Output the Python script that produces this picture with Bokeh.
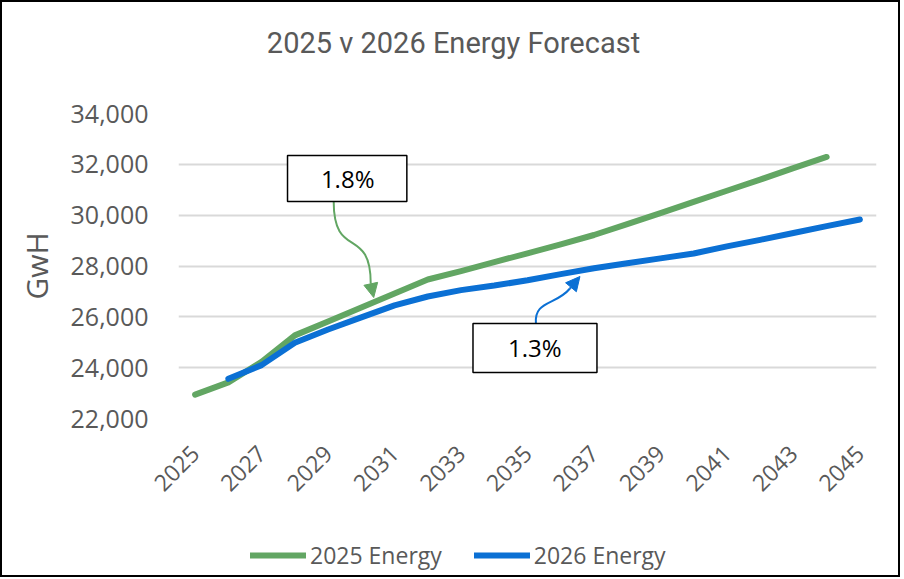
import numpy as np
from bokeh.plotting import figure
from bokeh.layouts import column
from bokeh.models import (FixedTicker, NumeralTickFormatter, Legend, LegendItem, Label,
                          BoxAnnotation, Arrow, NormalHead, Range1d)
from bokeh.embed import file_html
from bokeh.resources import INLINE

# ---- data ----
years = list(range(2025, 2046))
years_2025_forecast = list(range(2025, 2045))
energy_2025 = [22940, 23420, 24230, 25270, 25820, 26370, 26920, 27470, 27800, 28150,
               28500, 28850, 29220, 29650, 30080, 30520, 30960, 31400, 31850, 32290]
years_2026_forecast = list(range(2026, 2046))
energy_2026 = [23560, 24100, 24980, 25500, 25980, 26450, 26800, 27050, 27230, 27440,
               27680, 27910, 28110, 28300, 28490, 28770, 29030, 29300, 29570, 29830]
tick_years = list(range(2025, 2046, 2))
y_ticks = list(range(22000, 34001, 2000))
series_names = ["2025 Energy", "2026 Energy"]
growth_2025 = "1.8%"
growth_2026 = "1.3%"
chart_title = "2025 v 2026 Energy Forecast"

GREEN = "#62a663"
BLUE = "#0b70d4"
GREY = "#595959"
FONT = "Open Sans"
W = 896
FRAME_L, FRAME_R = 178, 876   # page pixels of the plot area (strips share it)

x0 = years[0]
xs_2025 = [y - x0 for y in years_2025_forecast]
xs_2026 = [y - x0 for y in years_2026_forecast]


def strip(height):
    f = figure(width=W, height=height, x_range=Range1d(FRAME_L, FRAME_R),
               y_range=Range1d(0, height),
               x_axis_location=None, y_axis_location=None, min_border=0,
               output_backend="svg", toolbar_location=None)
    f.outline_line_color = None
    f.grid.visible = False
    f.background_fill_color = "white"
    f.border_fill_color = "white"
    return f


# ---- title strip ----
pt = strip(60)
pt.add_layout(Label(x=453, y=20, text=chart_title, text_align="center",
                    text_baseline="middle", text_font="Roboto", text_font_size="29px",
                    text_color=GREY))

# ---- main chart ----
p = figure(width=W, height=468,
           x_range=Range1d(-0.5, len(years) - 0.5),
           y_range=Range1d(y_ticks[0], y_ticks[-1]),
           output_backend="svg", toolbar_location=None,
           min_border_left=176, min_border_right=22, min_border_top=51, min_border_bottom=112)

p.outline_line_color = None
p.background_fill_color = "white"
p.border_fill_color = "white"

p.xgrid.grid_line_color = None
p.ygrid.grid_line_color = "#d9d9d9"
p.ygrid.grid_line_width = 2

p.yaxis.ticker = FixedTicker(ticks=y_ticks)
p.yaxis.formatter = NumeralTickFormatter(format="0,0")
p.yaxis.axis_line_color = None
p.yaxis.major_tick_line_color = None
p.yaxis.minor_tick_line_color = None
p.yaxis.major_tick_out = 0
p.yaxis.major_label_standoff = 30
p.yaxis.major_label_text_font = FONT
p.yaxis.major_label_text_font_size = "25px"
p.yaxis.major_label_text_color = GREY
p.yaxis.axis_label = "GwH"
p.yaxis.axis_label_text_font = FONT
p.yaxis.axis_label_text_font_size = "30px"
p.yaxis.axis_label_text_font_style = "normal"
p.yaxis.axis_label_text_color = GREY
p.yaxis.axis_label_standoff = 11

p.xaxis.ticker = FixedTicker(ticks=[y - x0 for y in tick_years])
p.xaxis.major_label_overrides = {y - x0: str(y) for y in tick_years}
p.xaxis.axis_line_color = None
p.xaxis.major_tick_line_color = None
p.xaxis.minor_tick_line_color = None
p.xaxis.major_tick_out = 0
p.xaxis.major_label_orientation = np.pi / 4
p.xaxis.major_label_standoff = 31
p.xaxis.major_label_text_font = FONT
p.xaxis.major_label_text_font_size = "23px"
p.xaxis.major_label_text_color = GREY

p.line(xs_2025, energy_2025, line_width=6, line_color=GREEN, line_cap="round", line_join="round")
p.line(xs_2026, energy_2026, line_width=6, line_color=BLUE, line_cap="round", line_join="round")


def callout(left, right, bottom, top, text, tx, ty):
    p.add_layout(BoxAnnotation(left=left, right=right, bottom=bottom, top=top,
                               fill_color="white", fill_alpha=1.0,
                               line_color="black", line_alpha=1.0, line_width=1.5,
                               level="overlay"))
    p.add_layout(Label(x=tx, y=ty, text=text, text_align="center", text_baseline="middle",
                       text_font=FONT, text_font_size="24px", text_color="black",
                       level="overlay"))


callout(2.78, 6.37, 30537, 32346, growth_2025, 4.59, 31430)
callout(8.36, 12.09, 23810, 25737, growth_2026, 10.22, 24780)

p.bezier(x0=[4.169], y0=[30537], x1=[5.283], y1=[27311],
         cx0=[4.169], cy0=[28216], cx1=[5.283], cy1=[29593],
         line_color=GREEN, line_width=2)
p.add_layout(Arrow(x_start=5.283, y_start=27311, x_end=5.373, y_end=26760,
                   line_color=GREEN, line_width=2,
                   end=NormalHead(size=14, fill_color=GREEN, line_color=GREEN)))

p.bezier(x0=[10.253], y0=[25738], x1=[11.277], y1=[27115],
         cx0=[10.193], cy0=[26643], cx1=[10.855], cy1=[26446],
         line_color=BLUE, line_width=2)
p.add_layout(Arrow(x_start=11.277, y_start=27115, x_end=11.578, y_end=27587,
                   line_color=BLUE, line_width=2,
                   end=NormalHead(size=14, fill_color=BLUE, line_color=BLUE)))

# ---- legend strip (series drawn out of its visible range, only legend shows) ----
pl = strip(45)
l1 = pl.line(xs_2025, energy_2025, line_width=6, line_color=GREEN, line_cap="round")
l2 = pl.line(xs_2026, energy_2026, line_width=6, line_color=BLUE, line_cap="round")
legend = Legend(items=[LegendItem(label=series_names[0], renderers=[l1]),
                       LegendItem(label=series_names[1], renderers=[l2])],
                orientation="horizontal", location=(72, 4),
                glyph_width=56, glyph_height=20, label_standoff=4, spacing=32,
                padding=0, margin=0, border_line_color=None, background_fill_alpha=0,
                label_text_font=FONT, label_text_font_size="23px", label_text_color=GREY)
pl.add_layout(legend)

layout = column(pt, p, pl, spacing=0, styles={"border": "2px solid black"})

open("out.html", "w").write(file_html(layout, INLINE))
